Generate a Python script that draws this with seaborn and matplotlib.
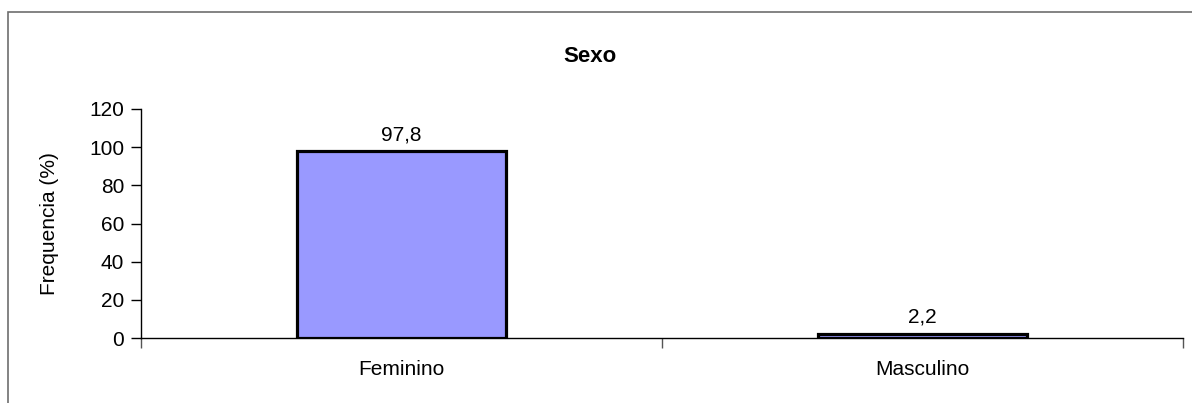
import matplotlib
matplotlib.use("Agg")
import matplotlib.pyplot as plt
import seaborn as sns
import pandas as pd
from matplotlib.patches import Rectangle
from matplotlib.ticker import FixedLocator

categories = ["Feminino", "Masculino"]
values = [97.8, 2.2]
value_labels = ["97,8", "2,2"]
y_ticks = [0, 20, 40, 60, 80, 100, 120]

W, H = 1192, 403


def main():
    sns.set_style("white")
    plt.rcParams["font.family"] = ["Liberation Sans", "DejaVu Sans"]
    plt.rcParams["text.color"] = "black"
    plt.rcParams["axes.labelcolor"] = "black"
    plt.rcParams["xtick.color"] = "black"
    plt.rcParams["ytick.color"] = "black"

    df = pd.DataFrame({"sexo": categories, "freq": values})

    fig = plt.figure(figsize=(W / 100, H / 100), dpi=100)
    fig.patch.set_facecolor("white")

    # outer chart frame (cropped on right/bottom like the source)
    fig.add_artist(Rectangle((8 / W, -0.05), 1.2, (H - 12) / H + 0.05,
                             transform=fig.transFigure, fill=False,
                             edgecolor="#6e6e6e", linewidth=1.2))

    ax = fig.add_axes([141 / W, (H - 338) / H, (1183 - 141) / W, (338 - 109) / H])
    sns.barplot(data=df, x="sexo", y="freq", color="#9999ff", width=0.4,
                edgecolor="black", linewidth=2.3, saturation=1, ax=ax)
    for p in ax.patches:
        p.set_facecolor("#9999ff")

    ax.set_xlim(-0.5, 1.5)
    ax.set_ylim(0, 120)
    ax.set_yticks(y_ticks)
    ax.tick_params(axis="y", direction="out", length=7, width=1, labelsize=15,
                   left=True, pad=5, colors="black")
    ax.tick_params(axis="x", which="major", length=0, labelsize=15, pad=16,
                   labelcolor="black")
    ax.xaxis.set_minor_locator(FixedLocator([-0.5, 0.5, 1.5]))
    ax.tick_params(axis="x", which="minor", direction="out", length=7, width=1,
                   color="#555555", bottom=True)

    for s in ["top", "right"]:
        ax.spines[s].set_visible(False)
    for s in ["left", "bottom"]:
        ax.spines[s].set_color("black")
        ax.spines[s].set_linewidth(1)

    for p, lab in zip(ax.patches, value_labels):
        ax.annotate(lab, (p.get_x() + p.get_width() / 2, p.get_height()),
                    xytext=(0, 5), textcoords="offset points",
                    ha="center", va="bottom", fontsize=15, color="black")

    ax.set_xlabel("")
    ax.set_ylabel("Frequencia (%)", fontsize=15, labelpad=22, color="black")
    fig.text(590 / W, 1 - 57 / H, "Sexo", ha="center", va="center",
             fontsize=16, fontweight="bold", color="black")

    fig.savefig("out.png", dpi=100)
    plt.close(fig)


if __name__ == "__main__":
    main()
